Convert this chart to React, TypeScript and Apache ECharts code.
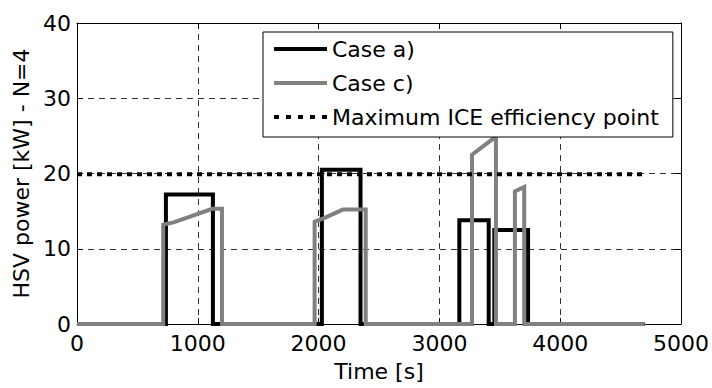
import React, { useEffect, useRef } from "react";
import * as echarts from "echarts";

const xTicks = [0, 1000, 2000, 3000, 4000, 5000];
const yTicks = [0, 10, 20, 30, 40];

const caseATime = [0, 736, 736, 1125, 1125, 2027, 2027, 2347, 2347, 3165, 3165, 3408, 3408, 3455, 3455, 3734, 3734, 4700];
const caseAPower = [0, 0, 17.2, 17.2, 0, 0, 20.5, 20.5, 0, 0, 13.8, 13.8, 0, 0, 12.5, 12.5, 0, 0];

const caseCTime = [0, 714, 714, 800, 1120, 1200, 1200, 1967, 1967, 2050, 2201, 2390, 2390, 3270, 3270, 3468, 3468, 3625, 3625, 3702, 3702, 4700];
const caseCPower = [0, 0, 13.2, 13.5, 15.3, 15.3, 0, 0, 13.6, 14.1, 15.2, 15.2, 0, 0, 22.5, 24.9, 0, 0, 17.6, 18.2, 0, 0];

const iceTime = [0, 4680];
const icePower = [19.9, 19.9];

const names = ["Case a)", "Case c)", "Maximum ICE efficiency point"];

const FONT = "DejaVu Sans";

const SOLID_ICON = "path://M0,0H53V4H0Z";
const DOTTED_ICON = "path://M0,0H5V4H0ZM12,0H17V4H12ZM24,0H29V4H24ZM36,0H41V4H36ZM48,0H53V4H48Z";

function zip(xs: number[], ys: number[]) {
  return xs.map((x, i) => [x, ys[i]]);
}

export default function App() {
  const ref = useRef<HTMLDivElement>(null);
  useEffect(() => {
    if (!ref.current) return;
    const chart = echarts.init(ref.current, undefined, { renderer: "svg" });
    const gridLine = { show: true, lineStyle: { color: "#333", width: 1, type: [6, 5] as any } };
    const axisLine = { show: true, onZero: false, lineStyle: { color: "#000", width: 1 } };
    const axisTick = { show: true, inside: true, length: 6, lineStyle: { color: "#000", width: 1 } };
    const fmt = (v: number) => String(v);
    chart.setOption({
      animation: false,
      backgroundColor: "#fff",
      textStyle: { fontFamily: FONT },
      grid: { left: 77, right: 30, top: 23, bottom: 64, containLabel: false },
      xAxis: [
        {
          type: "value",
          min: xTicks[0],
          max: xTicks[xTicks.length - 1],
          interval: 1000,
          name: "Time [s]",
          nameLocation: "middle",
          nameGap: 36,
          nameTextStyle: { fontFamily: FONT, fontSize: 22, color: "#000" },
          axisLine,
          axisTick,
          axisLabel: { fontFamily: FONT, fontSize: 22, color: "#000", margin: 8, formatter: fmt },
          splitLine: gridLine,
        },
        {
          type: "value",
          position: "top",
          min: xTicks[0],
          max: xTicks[xTicks.length - 1],
          interval: 1000,
          axisLine,
          axisTick,
          axisLabel: { show: false },
          splitLine: { show: false },
        },
      ],
      yAxis: [
        {
          type: "value",
          min: yTicks[0],
          max: yTicks[yTicks.length - 1],
          interval: 10,
          name: "HSV power [kW] - N=4",
          nameLocation: "middle",
          nameGap: 45,
          nameTextStyle: { fontFamily: FONT, fontSize: 22, color: "#000" },
          axisLine,
          axisTick,
          axisLabel: { fontFamily: FONT, fontSize: 22, color: "#000", margin: 6, formatter: fmt },
          splitLine: gridLine,
        },
        {
          type: "value",
          position: "right",
          min: yTicks[0],
          max: yTicks[yTicks.length - 1],
          interval: 10,
          axisLine,
          axisTick,
          axisLabel: { show: false },
          splitLine: { show: false },
        },
      ],
      legend: {
        orient: "vertical",
        left: 263,
        top: 32,
        padding: [6, 14, 9, 11],
        itemWidth: 53,
        itemHeight: 4,
        itemGap: 12,
        backgroundColor: "#fff",
        borderColor: "#000",
        borderWidth: 1,
        borderRadius: 0,
        textStyle: { fontFamily: FONT, fontSize: 22, color: "#000", lineHeight: 22 },
        data: [
          { name: names[0], icon: SOLID_ICON, itemStyle: { color: "#000" } },
          { name: names[1], icon: SOLID_ICON, itemStyle: { color: "#808080" } },
          { name: names[2], icon: DOTTED_ICON, itemStyle: { color: "#000" } },
        ],
      },
      series: [
        {
          name: names[0],
          type: "line",
          data: zip(caseATime, caseAPower),
          symbol: "none",
          lineStyle: { color: "#000", width: 4, join: "miter" },
          itemStyle: { color: "#000" },
          z: 2,
        },
        {
          name: names[1],
          type: "line",
          data: zip(caseCTime, caseCPower),
          symbol: "none",
          lineStyle: { color: "#808080", width: 4, join: "miter" },
          itemStyle: { color: "#808080" },
          z: 3,
        },
        {
          name: names[2],
          type: "line",
          data: zip(iceTime, icePower),
          symbol: "none",
          lineStyle: { color: "#000", width: 4, type: [5, 5] },
          itemStyle: { color: "#000" },
          z: 4,
        },
      ],
    });
    return () => chart.dispose();
  }, []);
  return <div ref={ref} style={{ width: 712, height: 388, position: "absolute", left: 0, top: 0 }} />;
}
